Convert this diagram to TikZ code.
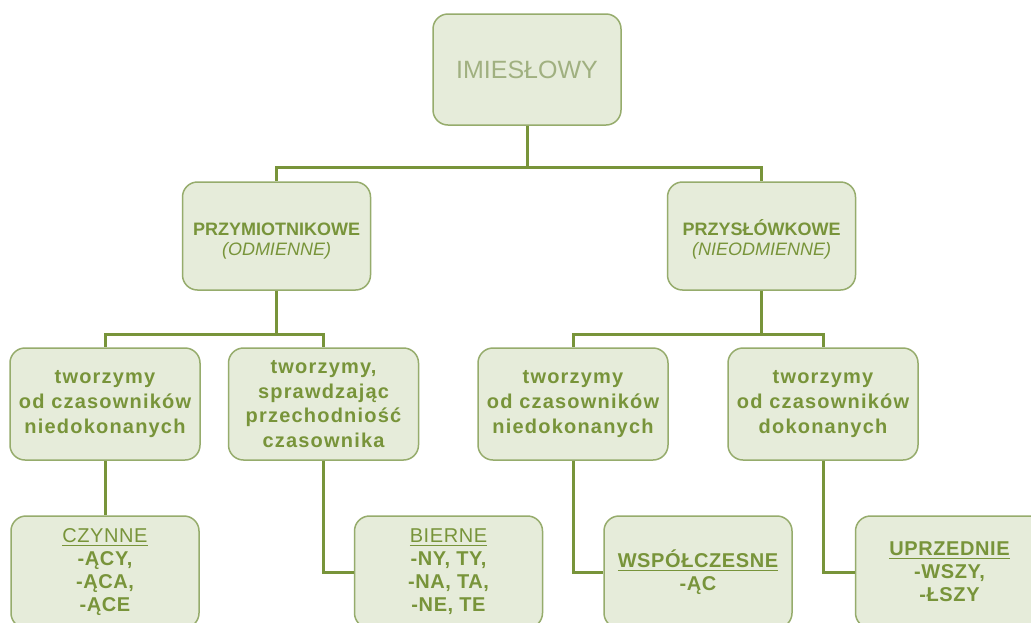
\documentclass[tikz,border=0pt]{standalone}
\usepackage{fontspec}
\setmainfont{Liberation Sans}
\newfontfamily\spaced[LetterSpace=6]{Liberation Sans}
\newfontfamily\wide[LetterSpace=3]{Liberation Sans}
\usetikzlibrary{positioning}
\definecolor{boxfill}{RGB}{230,236,218}
\definecolor{boxline}{RGB}{150,172,108}
\definecolor{olive}{RGB}{120,148,58}
\definecolor{pale}{RGB}{160,176,128}

\begin{document}
\begin{tikzpicture}[x=0.5pt,y=-0.5pt,
  box/.style={draw=boxline,line width=0.75pt,fill=boxfill,rounded corners=7.5pt,
    minimum width=94pt,minimum height=55.5pt,align=center,text=olive,inner sep=1pt},
  conn/.style={draw=olive,line width=1.5pt},
  top/.style={font=\fontsize{12.5}{15}\selectfont,text=pale},
  mid/.style={font=\fontsize{9}{10}\selectfont\bfseries,text height=21pt},
  low/.style={font=\fontsize{10}{12.3}\selectfont\spaced\bfseries},
  end/.style={font=\fontsize{10}{11.5}\selectfont\wide\bfseries}]
\path[use as bounding box,clip] (0,0) rectangle (1031,622);
\fill[white] (0,0) rectangle (1031,622);

\node[box,top] (root) at (527,69.5) {IMIESŁOWY};
\node[box,mid,minimum height=54pt] (przym) at (276.5,236) {PRZYMIOTNIKOWE\\{\mdseries\itshape (ODMIENNE)}};
\node[box,mid,minimum height=54pt] (przysl) at (761.5,236) {PRZYSŁÓWKOWE\\{\mdseries\itshape (NIEODMIENNE)}};

\node[box,low,minimum width=95pt,minimum height=56pt] (tworzA) at (105,404) {tworzymy\\od czasowników\\niedokonanych};
\node[box,low,minimum width=95pt,minimum height=56pt] (tworzB) at (323.5,404) {tworzymy,\\sprawdzając\\przechodniość\\czasownika};
\node[box,low,minimum width=95pt,minimum height=56pt] (tworzC) at (573,404) {tworzymy\\od czasowników\\niedokonanych};
\node[box,low,minimum width=95pt,minimum height=56pt] (tworzD) at (823,404) {tworzymy\\od czasowników\\dokonanych};

\node[box,end,minimum height=56pt] (czynne) at (105,572) {{\mdseries\underline{CZYNNE}}\\-ĄCY,\\-ĄCA,\\-ĄCE};
\node[box,end,minimum height=56pt] (bierne) at (448.5,572) {{\mdseries\underline{BIERNE}}\\-NY, TY,\\-NA, TA,\\-NE, TE};
\node[box,end,minimum height=56pt] (wspol) at (698,572) {\underline{WSPÓŁCZESNE}\\-ĄC};
\node[box,end,minimum height=56pt] (uprz) at (949.5,572) {\underline{UPRZEDNIE}\\-WSZY,\\-ŁSZY};

\coordinate (bar1) at (527,167);
\coordinate (bar2) at (276.5,334);
\coordinate (bar3) at (761.5,334);

\draw[conn] (root.south) -- (bar1) -| (przym.north);
\draw[conn] (bar1) -| (przysl.north);
\draw[conn] (przym.south) -- (bar2) -| (tworzA.north);
\draw[conn] (bar2) -| (tworzB.north);
\draw[conn] (przysl.south) -- (bar3) -| (tworzC.north);
\draw[conn] (bar3) -| (tworzD.north);
\draw[conn] (tworzA.south) -- (czynne.north);
\draw[conn] (tworzB.south) |- (bierne.west);
\draw[conn] (tworzC.south) |- (wspol.west);
\draw[conn] (tworzD.south) |- (uprz.west);
\end{tikzpicture}
\end{document}
